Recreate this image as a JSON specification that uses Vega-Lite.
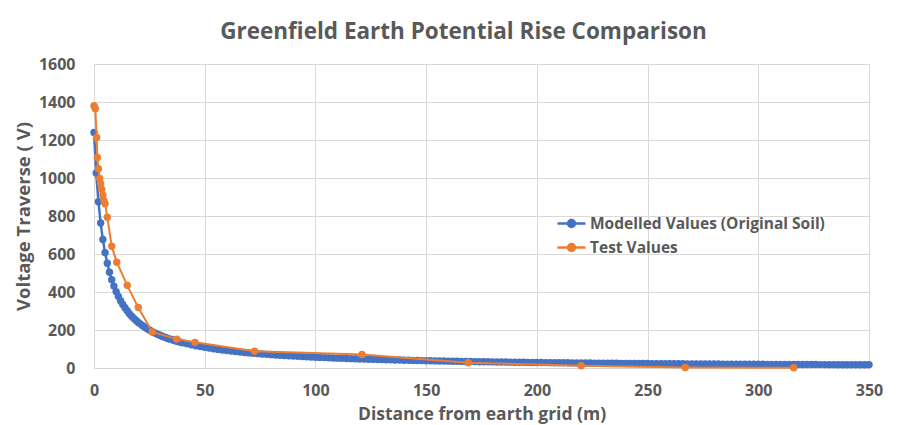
{
  "$schema": "https://vega.github.io/schema/vega-lite/v6.json",
  "autosize": {"type": "none"},
  "width": 775,
  "height": 304,
  "padding": {"left": 94, "top": 64, "right": 37, "bottom": 57},
  "background": "white",
  "title": {
    "text": "Greenfield Earth Potential Rise Comparison",
    "font": "Open Sans",
    "fontSize": 22.5,
    "fontWeight": "bold",
    "color": "#595959",
    "anchor": "middle",
    "dx": -18,
    "offset": 13
  },
  "config": {
    "view": {"stroke": null},
    "font": "Open Sans",
    "axis": {
      "labelFont": "Open Sans",
      "labelFontSize": 16,
      "labelFontWeight": "bold",
      "labelColor": "#595959",
      "labelFlush": false,
      "titleFont": "Open Sans",
      "titleFontSize": 18.5,
      "titleFontWeight": "bold",
      "titleColor": "#595959",
      "gridColor": "#d9d9d9",
      "gridWidth": 1,
      "domainColor": "#d9d9d9",
      "ticks": false
    }
  },
  "datasets": {
    "model": [
      {"d":0,"v":1240},{"d":1,"v":1026},{"d":2,"v":875},{"d":3,"v":763},{"d":4,"v":676},{"d":5,"v":607},{"d":6,"v":551},{"d":7,"v":504},{"d":8,"v":465},{"d":9,"v":431},
      {"d":10,"v":402},{"d":11,"v":377},{"d":12,"v":354},{"d":13,"v":334},{"d":14,"v":317},{"d":15,"v":301},{"d":16,"v":286},{"d":17,"v":273},{"d":18,"v":261},{"d":19,"v":250},
      {"d":20,"v":240},{"d":21,"v":231},{"d":22,"v":222},{"d":23,"v":214},{"d":24,"v":207},{"d":25,"v":200},{"d":26,"v":193},{"d":27,"v":187},{"d":28,"v":181},{"d":29,"v":176},
      {"d":30,"v":171},{"d":31,"v":166},{"d":32,"v":162},{"d":33,"v":157},{"d":34,"v":153},{"d":35,"v":150},{"d":36,"v":146},{"d":37,"v":142},{"d":38,"v":139},{"d":39,"v":136},
      {"d":40,"v":133},{"d":42,"v":127},{"d":44,"v":122},{"d":46,"v":117},{"d":48,"v":113},{"d":50,"v":109},{"d":52,"v":105},{"d":54,"v":101},{"d":56,"v":98},{"d":58,"v":95},
      {"d":60,"v":92},{"d":62,"v":89},{"d":64,"v":86.5},{"d":66,"v":84},{"d":68,"v":81.7},{"d":70,"v":79.5},{"d":72,"v":77.5},{"d":74,"v":75.5},{"d":76,"v":73.6},{"d":78,"v":71.9},
      {"d":80,"v":70.2},{"d":82,"v":68.5},{"d":84,"v":67},{"d":86,"v":65.5},{"d":88,"v":64.1},{"d":90,"v":62.8},{"d":92,"v":61.5},{"d":94,"v":60.2},{"d":96,"v":59},{"d":98,"v":57.9},
      {"d":100,"v":56.8},{"d":102,"v":55.7},{"d":104,"v":54.7},{"d":106,"v":53.7},{"d":108,"v":52.7},{"d":110,"v":51.8},{"d":112,"v":50.9},{"d":114,"v":50.1},{"d":116,"v":49.3},{"d":118,"v":48.5},
      {"d":120,"v":47.7},{"d":122,"v":46.9},{"d":124,"v":46.2},{"d":126,"v":45.5},{"d":128,"v":44.8},{"d":130,"v":44.1},{"d":132,"v":43.5},{"d":134,"v":42.9},{"d":136,"v":42.3},{"d":138,"v":41.7},
      {"d":140,"v":41.1},{"d":142,"v":40.5},{"d":144,"v":40},{"d":146,"v":39.5},{"d":148,"v":38.9},{"d":150,"v":38.4},{"d":152,"v":37.9},{"d":154,"v":37.5},{"d":156,"v":37},{"d":158,"v":36.5},
      {"d":160,"v":36.1},{"d":162,"v":35.7},{"d":164,"v":35.2},{"d":166,"v":34.8},{"d":168,"v":34.4},{"d":170,"v":34},{"d":172,"v":33.7},{"d":174,"v":33.3},{"d":176,"v":32.9},{"d":178,"v":32.5},
      {"d":180,"v":32.2},{"d":182,"v":31.9},{"d":184,"v":31.5},{"d":186,"v":31.2},{"d":188,"v":30.9},{"d":190,"v":30.5},{"d":192,"v":30.2},{"d":194,"v":29.9},{"d":196,"v":29.6},{"d":198,"v":29.3},
      {"d":200,"v":29.1},{"d":202,"v":28.8},{"d":204,"v":28.5},{"d":206,"v":28.2},{"d":208,"v":28},{"d":210,"v":27.7},{"d":212,"v":27.4},{"d":214,"v":27.2},{"d":216,"v":26.9},{"d":218,"v":26.7},
      {"d":220,"v":26.5},{"d":222,"v":26.2},{"d":224,"v":26},{"d":226,"v":25.8},{"d":228,"v":25.6},{"d":230,"v":25.3},{"d":232,"v":25.1},{"d":234,"v":24.9},{"d":236,"v":24.7},{"d":238,"v":24.5},
      {"d":240,"v":24.3},{"d":242,"v":24.1},{"d":244,"v":23.9},{"d":246,"v":23.7},{"d":248,"v":23.5},{"d":250,"v":23.4},{"d":252,"v":23.2},{"d":254,"v":23},{"d":256,"v":22.8},{"d":258,"v":22.6},
      {"d":260,"v":22.5},{"d":262,"v":22.3},{"d":264,"v":22.1},{"d":266,"v":22},{"d":268,"v":21.8},{"d":270,"v":21.7},{"d":272,"v":21.5},{"d":274,"v":21.3},{"d":276,"v":21.2},{"d":278,"v":21},
      {"d":280,"v":20.9},{"d":282,"v":20.7},{"d":284,"v":20.6},{"d":286,"v":20.5},{"d":288,"v":20.3},{"d":290,"v":20.2},{"d":292,"v":20},{"d":294,"v":19.9},{"d":296,"v":19.8},{"d":298,"v":19.6},
      {"d":300,"v":19.5},{"d":302,"v":19.4},{"d":304,"v":19.3},{"d":306,"v":19.1},{"d":308,"v":19},{"d":310,"v":18.9},{"d":312,"v":18.8},{"d":314,"v":18.7},{"d":316,"v":18.5},{"d":318,"v":18.4},
      {"d":320,"v":18.3},{"d":322,"v":18.2},{"d":324,"v":18.1},{"d":326,"v":18},{"d":328,"v":17.9},{"d":330,"v":17.8},{"d":332,"v":17.7},{"d":334,"v":17.6},{"d":336,"v":17.5},{"d":338,"v":17.4},
      {"d":340,"v":17.3},{"d":342,"v":17.2},{"d":344,"v":17.1},{"d":346,"v":17},{"d":348,"v":16.9},{"d":350,"v":16.8}
    ],
    "test": [
      {"d":0,"v":1380},{"d":0.6,"v":1364},{"d":1.2,"v":1213},{"d":1.5,"v":1108},{"d":2,"v":1049},{"d":2.6,"v":997},{"d":3,"v":970},{"d":3.5,"v":940},{"d":4,"v":910},{"d":4.5,"v":880},
      {"d":5,"v":865},{"d":6,"v":794},{"d":8,"v":641},{"d":10.3,"v":557},{"d":15,"v":435},{"d":20,"v":318},{"d":26.3,"v":190},{"d":37.4,"v":152},{"d":45.6,"v":135},{"d":72.5,"v":88},
      {"d":121,"v":71},{"d":169,"v":28},{"d":220,"v":12},{"d":267,"v":3},{"d":316,"v":1}
    ]
  },
  "encoding": {
    "x": {
      "field": "d", "type": "quantitative",
      "scale": {"domain": [0, 350], "nice": false},
      "axis": {"values": [0,50,100,150,200,250,300,350], "title": "Distance from earth grid (m)", "titleFontSize": 17.5, "labelPadding": 14, "titlePadding": 7}
    },
    "y": {
      "field": "v", "type": "quantitative",
      "scale": {"domain": [0, 1600], "nice": false},
      "axis": {"values": [0,200,400,600,800,1000,1200,1400,1600], "format": "d", "title": "Voltage Traverse ( V)", "labelPadding": 19, "titlePadding": 5}
    },
    "color": {
      "type": "nominal",
      "scale": {"domain": ["Modelled Values (Original Soil)", "Test Values"], "range": ["#4472C4", "#ED7D31"]},
      "legend": {
        "title": null,
        "orient": "none",
        "legendX": 469,
        "legendY": 151,
        "labelFont": "Open Sans",
        "labelFontSize": 15.5,
        "labelFontWeight": "bold",
        "labelColor": "#595959",
        "labelLimit": 400,
        "symbolType": "M-2,0L2,0M-0.5,0A0.5,0.5 0 1,1 0.5,0A0.5,0.5 0 1,1 -0.5,0Z",
        "symbolSize": 196,
        "symbolStrokeWidth": 2.5,
        "rowPadding": 7,
        "labelOffset": 10,
        "encode": {"symbols": {"update": {"fill": {"scale": "color", "field": "value"}, "stroke": {"scale": "color", "field": "value"}, "opacity": {"value": 1}}}}
      }
    }
  },
  "layer": [
    {
      "data": {"name": "model"},
      "mark": {"type": "line", "strokeWidth": 2.5, "point": {"filled": true, "size": 55, "opacity": 1}},
      "encoding": {"color": {"datum": "Modelled Values (Original Soil)"}}
    },
    {
      "data": {"name": "test"},
      "mark": {"type": "line", "strokeWidth": 2, "point": {"filled": true, "size": 55, "opacity": 1}},
      "encoding": {"color": {"datum": "Test Values"}}
    }
  ]
}
